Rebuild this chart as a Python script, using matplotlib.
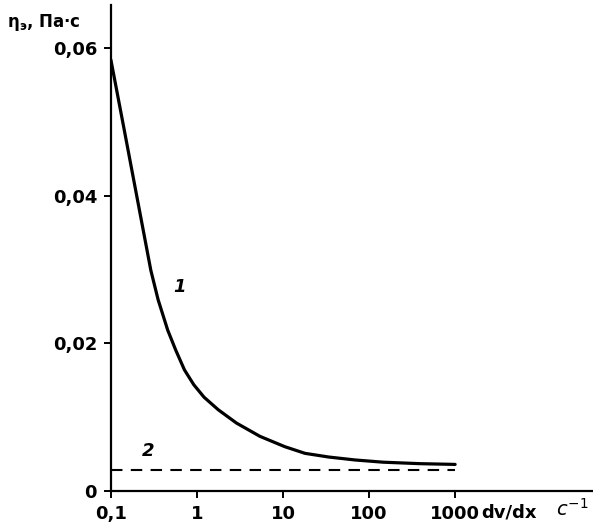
import matplotlib.pyplot as plt
from matplotlib.ticker import FixedLocator, NullLocator

# curve 1: effective viscosity vs shear rate
shear_rate = [0.1, 0.143, 0.204, 0.291, 0.354, 0.457, 0.566, 0.716, 0.918,
              1.21, 1.77, 2.88, 5.4, 10.5, 18, 34, 69, 146, 392, 1000]
viscosity = [0.0584, 0.0489, 0.0394, 0.0299, 0.0259, 0.0218, 0.0191, 0.0164, 0.0144,
             0.0127, 0.0110, 0.0092, 0.0074, 0.0060, 0.0051, 0.0046, 0.0042, 0.0039, 0.0037, 0.0036]

# line 2: constant viscosity
line2_rate = [0.1, 1000]
line2_visc = [0.0029, 0.0029]

xticks = [0.1, 1, 10, 100, 1000]
xticklabels = ['0,1', '1', '10', '100', '1000']
yticks = [0, 0.02, 0.04, 0.06]
yticklabels = ['0', '0,02', '0,04', '0,06']

fig = plt.figure(figsize=(5.93, 5.24), dpi=100)
ax = fig.add_axes([0.187, 0.063, 0.813, 0.927])

ax.plot(shear_rate, viscosity, color='black', lw=2.3, solid_capstyle='round', solid_joinstyle='round')
ax.plot(line2_rate, line2_visc, color='black', lw=1.5, ls=(0, (5.5, 4)))

ax.set_xscale('log')
ax.set_xlim(0.1, 40000)
ax.set_ylim(0, 0.0658)

ax.xaxis.set_major_locator(FixedLocator(xticks))
ax.xaxis.set_minor_locator(NullLocator())
ax.set_xticklabels(xticklabels)
ax.set_yticks(yticks)
ax.set_yticklabels(yticklabels)

for s in ['top', 'right']:
	ax.spines[s].set_visible(False)
for s in ['left', 'bottom']:
	ax.spines[s].set_linewidth(1.6)

ax.tick_params(axis='both', direction='out', length=5, width=1.4, pad=5)
for lab in ax.get_xticklabels() + ax.get_yticklabels():
	lab.set_fontsize(13)
	lab.set_fontweight('bold')

# curve labels
ax.text(0.62, 0.0276, '1', fontsize=13, style='italic', fontweight='bold', ha='center', va='center')
ax.text(0.27, 0.0054, '2', fontsize=13, style='italic', fontweight='bold', ha='center', va='center')

# axis titles
fig.text(0.012, 0.958, r'η$_\mathregular{э}$, Па·с', fontsize=12, fontweight='bold', ha='left', va='center')
fig.text(0.812, 0.022, 'dv/dx', fontsize=13, fontweight='bold', ha='left', va='center')
fig.text(0.938, 0.028, r'$c^{-1}$', fontsize=14, ha='left', va='center')

plt.savefig('out.png', dpi=100)
